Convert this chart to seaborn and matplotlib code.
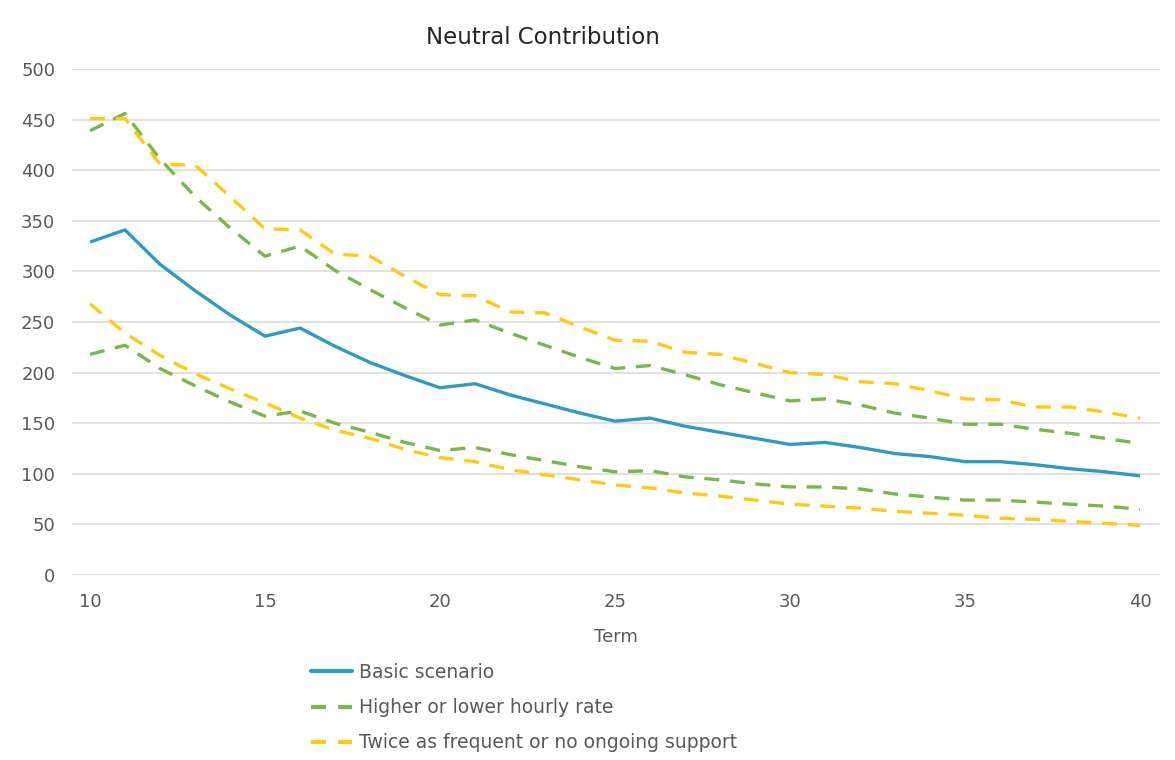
import numpy as np
import pandas as pd
import matplotlib
matplotlib.use("Agg")
import matplotlib.pyplot as plt
import seaborn as sns
from matplotlib.lines import Line2D

# Term in years
term = list(range(10, 41))

basic = [329, 341, 307, 281, 257, 236, 244, 226, 210, 197, 185, 189, 178, 169, 160, 152,
         155, 147, 141, 135, 129, 131, 126, 120, 117, 112, 112, 109, 105, 102, 98]

rate_high = [439, 456, 411, 374, 343, 315, 325, 301, 282, 264, 247, 252, 239, 227, 215, 204,
             207, 198, 188, 180, 172, 174, 168, 160, 155, 149, 149, 144, 140, 135, 130]
rate_low = [218, 227, 204, 187, 171, 157, 162, 150, 141, 131, 123, 126, 119, 113, 107, 102,
            103, 97, 94, 90, 87, 87, 85, 80, 77, 74, 74, 72, 70, 68, 65]

support_high = [451, 451, 406, 405, 374, 342, 341, 317, 315, 295, 277, 276, 260, 259, 245, 232,
                231, 220, 218, 209, 200, 198, 191, 189, 182, 174, 173, 166, 166, 161, 155]
support_low = [268, 239, 217, 199, 184, 170, 155, 143, 135, 124, 116, 112, 104, 99, 94, 89,
               86, 81, 78, 74, 70, 68, 66, 63, 61, 59, 56, 55, 53, 51, 49]

labels = ["Basic scenario", "Higher or lower hourly rate",
          "Twice as frequent or no ongoing support"]

BLUE = "#2E9BC3"
GREEN = "#7AB648"
YELLOW = "#FFC914"
TEXT = "#595959"

sns.set_theme(style="white")
plt.rcParams["font.family"] = ["DejaVu Sans"]

fig = plt.figure(figsize=(11.75, 7.6), dpi=100)
ax = fig.add_axes([72 / 1175, 1 - 575 / 760, 1088 / 1175, 506 / 760])

lw = 2.4
dash = (4.5, 3.2)

series = [
    (basic, BLUE, None),
    (rate_high, GREEN, dash),
    (rate_low, GREEN, dash),
    (support_high, YELLOW, dash),
    (support_low, YELLOW, dash),
]
for vals, color, ds in series:
    df = pd.DataFrame({"Term": term, "Value": vals})
    sns.lineplot(x="Term", y="Value", data=df, ax=ax, color=color, linewidth=lw,
                 legend=False, zorder=3)
    if ds is not None:
        ax.lines[-1].set_dashes(ds)
    ax.lines[-1].set_solid_capstyle("butt")
    ax.lines[-1].set_dash_capstyle("butt")

ax.set_xlim(10 - 18 / 35, 40 + 20 / 35)
ax.set_ylim(0, 500)
ax.set_xticks([10, 15, 20, 25, 30, 35, 40])
ax.set_yticks(np.arange(0, 501, 50))
ax.yaxis.grid(True, color="#D9D9D9", linewidth=1.1)
ax.xaxis.grid(False)
for s in ax.spines.values():
    s.set_visible(False)
ax.tick_params(axis="both", length=0, labelsize=13, labelcolor=TEXT)
ax.tick_params(axis="y", pad=12)
ax.tick_params(axis="x", pad=13)
ax.set_ylabel("")
ax.set_xlabel("Term", fontsize=13, color=TEXT, labelpad=12)

fig.text(543 / 1175, 1 - 37 / 760, "Neutral Contribution", ha="center", va="center",
         fontsize=16.5, color="#262626")

handles = [
    Line2D([], [], color=BLUE, linewidth=3),
    Line2D([], [], color=GREEN, linewidth=3, dashes=(3.6, 2.9)),
    Line2D([], [], color=YELLOW, linewidth=3, dashes=(3.6, 2.9)),
]
fig.legend(handles, labels, loc="upper left", bbox_to_anchor=(311 / 1175, 1 - 663 / 760),
           frameon=False, fontsize=13.5, labelcolor=TEXT, handlelength=2.2,
           handletextpad=0.35, labelspacing=0.86, borderpad=0, borderaxespad=0)

fig.savefig("out.png", dpi=100, facecolor="white")
